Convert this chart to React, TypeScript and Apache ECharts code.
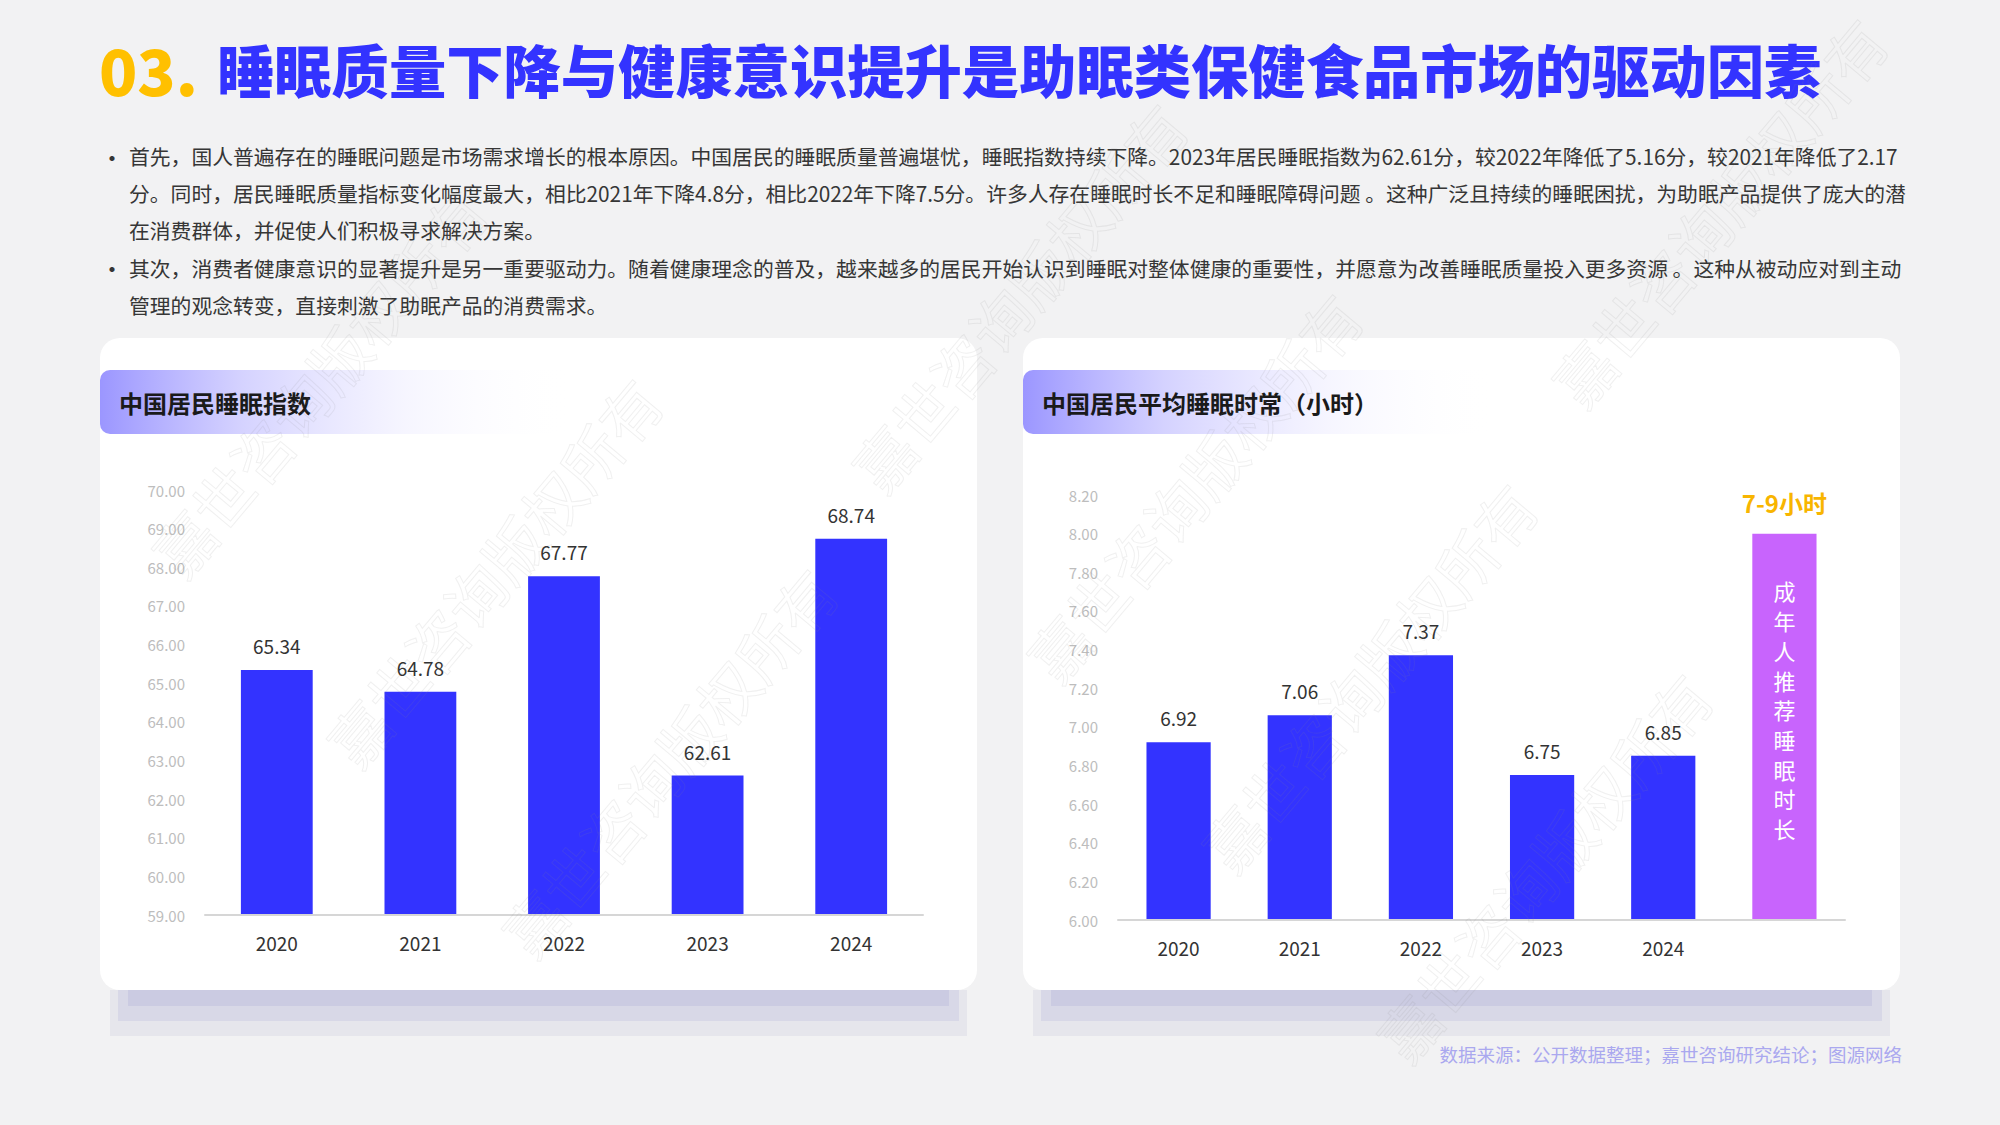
import React, { useEffect, useRef } from "react";
import * as echarts from "echarts";

const titleNum = "03.";
const titleText = "睡眠质量下降与健康意识提升是助眠类保健食品市场的驱动因素";
const paragraphLines = [
  "首先，国人普遍存在的睡眠问题是市场需求增长的根本原因。中国居民的睡眠质量普遍堪忧，睡眠指数持续下降。2023年居民睡眠指数为62.61分，较2022年降低了5.16分，较2021年降低了2.17",
  "分。同时，居民睡眠质量指标变化幅度最大，相比2021年下降4.8分，相比2022年下降7.5分。许多人存在睡眠时长不足和睡眠障碍问题 。这种广泛且持续的睡眠困扰，为助眠产品提供了庞大的潜",
  "在消费群体，并促使人们积极寻求解决方案。",
  "其次，消费者健康意识的显著提升是另一重要驱动力。随着健康理念的普及，越来越多的居民开始认识到睡眠对整体健康的重要性，并愿意为改善睡眠质量投入更多资源 。这种从被动应对到主动",
  "管理的观念转变，直接刺激了助眠产品的消费需求。",
];
const bulletLines = [0, 3];

const leftTitle = "中国居民睡眠指数";
const rightTitle = "中国居民平均睡眠时常（小时）";
const sourceText = "数据来源：公开数据整理；嘉世咨询研究结论；图源网络";
const watermarkText = "嘉世咨询版权所有";

const indexYears = ["2020", "2021", "2022", "2023", "2024"];
const indexValues = [65.34, 64.78, 67.77, 62.61, 68.74];

const hoursYears = ["2020", "2021", "2022", "2023", "2024", ""];
const hoursValues = [6.92, 7.06, 7.37, 6.75, 6.85];
const recommendedValue = 8.0;
const recommendedTop = "7-9小时";
const recommendedInside = "成年人推荐睡眠时长";

const FONT = '"Noto Sans CJK SC", "Noto Sans", sans-serif';
const BLUE = "#3333ff";
const PURPLE = "#c864fd";
const ORANGE = "#f8b500";

function cardGraphics(x: number) {
  const y = 338;
  const w = 877;
  const h = 652;
  return [
    { type: "rect", z: 0, shape: { x: x + 10, y: y + h, width: w - 20, height: 46 }, style: { fill: "#e6e6ec" } },
    { type: "rect", z: 0, shape: { x: x + 18, y: y + h, width: w - 36, height: 31 }, style: { fill: "#d8d8e7" } },
    { type: "rect", z: 0, shape: { x: x + 28, y: y + h, width: w - 56, height: 16 }, style: { fill: "#cbcbe2" } },
    { type: "rect", z: 1, shape: { x, y, width: w, height: h, r: 20 }, style: { fill: "#ffffff" } },
    {
      type: "rect",
      z: 2,
      shape: { x, y: 370, width: 470, height: 64, r: [10, 0, 0, 10] },
      style: {
        fill: new echarts.graphic.LinearGradient(0, 0, 1, 0, [
          { offset: 0, color: "rgba(155,150,255,1)" },
          { offset: 0.3, color: "rgba(205,202,255,0.85)" },
          { offset: 0.65, color: "rgba(240,239,255,0.6)" },
          { offset: 1, color: "rgba(255,255,255,0)" },
        ]),
      },
    },
  ];
}

function watermarks() {
  const out: any[] = [];
  for (let i = -3; i <= 4; i++) {
    for (let j = -4; j <= 5; j++) {
      const cx = 493 + i * 700 + j * 175;
      const cy = 571 - i * 85 + j * 190;
      if (cx < 175 || cx > 1825 || cy < 205 || cy > 920) continue;
      out.push({
        type: "text",
        z: 100,
        silent: true,
        x: cx,
        y: cy,
        rotation: (50 * Math.PI) / 180,
        style: {
          text: watermarkText,
          fontSize: 60,
          fontFamily: FONT,
          fill: "rgba(0,0,0,0)",
          stroke: "rgba(140,140,140,0.13)",
          lineWidth: 1,
          align: "center",
          verticalAlign: "middle",
        },
      });
    }
  }
  return out;
}

export default function App() {
  const ref = useRef<HTMLDivElement>(null);
  useEffect(() => {
    if (!ref.current) return;
    const chart = echarts.init(ref.current, null, { renderer: "svg" });

    const graphics: any[] = [
      ...cardGraphics(100),
      ...cardGraphics(1023),
      {
        type: "text",
        z: 3,
        x: 99,
        y: 68,
        style: { text: titleNum, fontSize: 63, fontWeight: 900, fontFamily: FONT, fill: "#ffc000", verticalAlign: "middle", align: "left" },
      },
      {
        type: "text",
        z: 3,
        x: 217,
        y: 68,
        style: { text: titleText, fontSize: 57.3, fontWeight: 900, fontFamily: FONT, fill: BLUE, verticalAlign: "middle", align: "left" },
      },
      ...paragraphLines.map((t, i) => ({
        type: "text",
        z: 3,
        x: 129,
        y: 156 + i * 37.2,
        style: { text: t, fontSize: 20.8, fontFamily: FONT, fill: "#363636", verticalAlign: "middle", align: "left" },
      })),
      ...bulletLines.map((i) => ({
        type: "text",
        z: 3,
        x: 100,
        y: 156 + i * 37.2,
        style: { text: "•", fontSize: 24, fontFamily: FONT, fill: "#363636", verticalAlign: "middle", align: "left" },
      })),
      {
        type: "text",
        z: 3,
        x: 119,
        y: 402,
        style: { text: leftTitle, fontSize: 24, fontWeight: 700, fontFamily: FONT, fill: "#1a1a1a", verticalAlign: "middle", align: "left" },
      },
      {
        type: "text",
        z: 3,
        x: 1042,
        y: 402,
        style: { text: rightTitle, fontSize: 24, fontWeight: 700, fontFamily: FONT, fill: "#1a1a1a", verticalAlign: "middle", align: "left" },
      },
      {
        type: "text",
        z: 3,
        x: 1902,
        y: 1054,
        style: { text: sourceText, fontSize: 18.5, fontFamily: FONT, fill: "#aaa8ef", verticalAlign: "middle", align: "right" },
      },
      ...watermarks(),
    ];

    const axisLabelY = (v: number) => v.toFixed(2);

    chart.setOption({
      animation: false,
      backgroundColor: "#f2f2f3",
      textStyle: { fontFamily: FONT },
      graphic: { elements: graphics },
      grid: [
        { left: 205, right: 2000 - 923, top: 490, bottom: 1125 - 915, containLabel: false },
        { left: 1118, right: 2000 - 1845, top: 495, bottom: 1125 - 920, containLabel: false },
      ],
      xAxis: [
        {
          type: "category",
          gridIndex: 0,
          z: 6,
          data: indexYears,
          axisTick: { show: false },
          axisLine: { lineStyle: { color: "#d6d6d6", width: 2 } },
          axisLabel: { color: "#333", fontSize: 19, margin: 18, fontFamily: FONT },
        },
        {
          type: "category",
          gridIndex: 1,
          z: 6,
          data: hoursYears,
          axisTick: { show: false },
          axisLine: { lineStyle: { color: "#d6d6d6", width: 2 } },
          axisLabel: { color: "#333", fontSize: 19, margin: 18, fontFamily: FONT },
        },
      ],
      yAxis: [
        {
          type: "value",
          gridIndex: 0,
          z: 6,
          min: 59,
          max: 70,
          interval: 1,
          axisLine: { show: false },
          axisTick: { show: false },
          splitLine: { show: false },
          axisLabel: { color: "#bdbdbd", fontSize: 15, margin: 20, formatter: axisLabelY, fontFamily: FONT },
        },
        {
          type: "value",
          gridIndex: 1,
          z: 6,
          min: 6,
          max: 8.2,
          interval: 0.2,
          axisLine: { show: false },
          axisTick: { show: false },
          splitLine: { show: false },
          axisLabel: { color: "#bdbdbd", fontSize: 15, margin: 20, formatter: axisLabelY, fontFamily: FONT },
        },
      ],
      series: [
        {
          type: "bar",
          xAxisIndex: 0,
          yAxisIndex: 0,
          z: 5,
          barWidth: "50%",
          data: indexValues,
          itemStyle: { color: BLUE },
          label: {
            show: true,
            position: "top",
            distance: 15,
            color: "#333",
            fontSize: 19,
            lineHeight: 19,
            fontFamily: FONT,
            formatter: (p: any) => Number(p.value).toFixed(2),
          },
        },
        {
          type: "bar",
          xAxisIndex: 1,
          yAxisIndex: 1,
          z: 5,
          barWidth: "53%",
          data: [
            ...hoursValues.map((v) => ({ value: v })),
            {
              value: recommendedValue,
              itemStyle: { color: PURPLE },
              label: {
                show: true,
                position: "top",
                distance: 19,
                color: ORANGE,
                fontSize: 24,
                lineHeight: 24,
                fontWeight: 700,
                fontFamily: FONT,
                formatter: recommendedTop,
              },
            },
          ],
          itemStyle: { color: BLUE },
          label: {
            show: true,
            position: "top",
            distance: 15,
            color: "#333",
            fontSize: 19,
            lineHeight: 19,
            fontFamily: FONT,
            formatter: (p: any) => Number(p.value).toFixed(2),
          },
        },
        {
          type: "bar",
          xAxisIndex: 1,
          yAxisIndex: 1,
          z: 7,
          barWidth: "53%",
          barGap: "-100%",
          silent: true,
          data: [null, null, null, null, null, { value: recommendedValue }],
          itemStyle: { color: "rgba(0,0,0,0)" },
          label: {
            show: true,
            position: "insideTop",
            distance: 42,
            color: "#ffffff",
            fontSize: 22,
            lineHeight: 29.7,
            fontFamily: FONT,
            formatter: recommendedInside.split("").join("\n"),
          },
        },
      ],
    });
    return () => chart.dispose();
  }, []);
  return <div ref={ref} style={{ position: "absolute", left: 0, top: 0, width: 2000, height: 1125 }} />;
}
